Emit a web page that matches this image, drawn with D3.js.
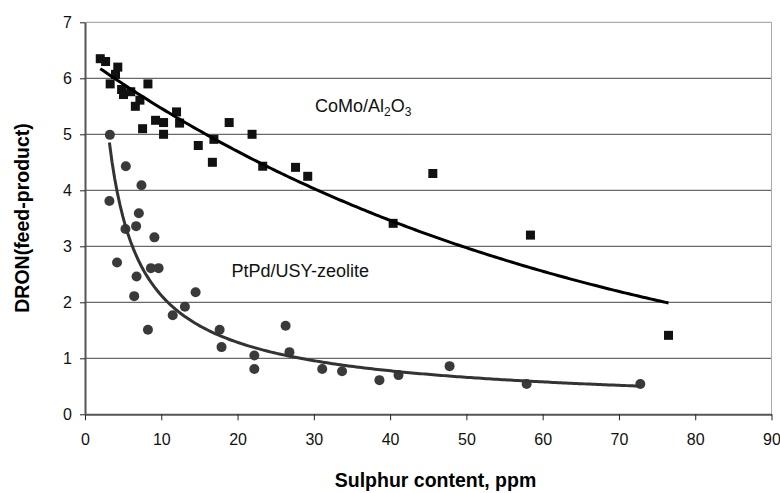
<!DOCTYPE html>
<html>
<head>
<meta charset="utf-8">
<script src="https://cdn.jsdelivr.net/npm/d3@7"></script>
<style>
  html, body { margin: 0; padding: 0; background: #fff; }
  svg { display: block; font-family: Arial, "Liberation Sans", sans-serif; }
</style>
</head>
<body>
<svg id="chart" width="780" height="493"></svg>
<script>
// ---- data ----
const comoX = [2.0, 2.7, 4.3, 4.0, 3.3, 4.8, 6.0, 5.05, 7.2, 6.6, 8.25, 9.25, 10.3, 12.0, 12.4, 7.55, 10.3, 14.85, 16.9, 16.7, 18.9, 21.9, 23.3, 27.6, 29.2, 45.6, 40.4, 58.4, 76.5];
const comoY = [6.35, 6.3, 6.2, 6.07, 5.9, 5.8, 5.76, 5.71, 5.61, 5.5, 5.9, 5.25, 5.21, 5.4, 5.2, 5.1, 5.0, 4.8, 4.91, 4.5, 5.21, 5.0, 4.43, 4.41, 4.25, 4.3, 3.41, 3.2, 1.41];
const ptpdX = [3.26, 5.35, 7.4, 3.2, 7.06, 5.3, 6.7, 9.1, 4.2, 6.76, 8.64, 9.65, 6.45, 14.5, 13.1, 8.25, 11.5, 17.65, 17.9, 22.2, 22.2, 26.3, 26.8, 31.1, 33.7, 38.6, 41.1, 47.8, 57.9, 72.8];
const ptpdY = [4.99, 4.43, 4.09, 3.81, 3.59, 3.31, 3.36, 3.16, 2.71, 2.46, 2.61, 2.61, 2.11, 2.18, 1.92, 1.51, 1.77, 1.51, 1.20, 1.05, 0.81, 1.58, 1.11, 0.81, 0.77, 0.61, 0.70, 0.86, 0.54, 0.54];
const xTicks = [0, 10, 20, 30, 40, 50, 60, 70, 80, 90];
const yTicks = [0, 1, 2, 3, 4, 5, 6, 7];
const xTitle = "Sulphur content, ppm";
const yTitle = "DRON(feed-product)";

// ---- layout ----
const svg = d3.select("#chart");
const L = 85, R = 771.5, T = 22.3, B = 414.3;
const x = d3.scaleLinear().domain([0, 90]).range([L, R]);
const y = d3.scaleLinear().domain([0, 7]).range([B, T]);

// gridlines
svg.append("g").selectAll("line").data(yTicks.filter(d => d > 0 && d < 7)).join("line")
  .attr("x1", L).attr("x2", R).attr("y1", d => y(d)).attr("y2", d => y(d))
  .attr("stroke", "#444").attr("stroke-width", 1);

// frame top/right
svg.append("line").attr("x1", L).attr("x2", R).attr("y1", y(7)).attr("y2", y(7)).attr("stroke", "#999").attr("stroke-width", 1);
svg.append("line").attr("x1", R).attr("x2", R).attr("y1", T).attr("y2", B).attr("stroke", "#aaa").attr("stroke-width", 1);

// axes
const fmt = d3.format("d");
const xAxis = d3.axisBottom(x).tickValues(xTicks).tickFormat(fmt).tickSize(6).tickSizeOuter(0).tickPadding(13);
const yAxis = d3.axisLeft(y).tickValues(yTicks).tickFormat(fmt).tickSize(5).tickSizeOuter(0).tickPadding(8);
const gx = svg.append("g").attr("transform", `translate(0,${B})`).call(xAxis);
const gy = svg.append("g").attr("transform", `translate(${L},0)`).call(yAxis);
[gx, gy].forEach(g => {
  g.select(".domain").attr("stroke", "#555").attr("stroke-width", 2);
  g.selectAll(".tick line").attr("stroke", "#222").attr("stroke-width", 1);
  g.selectAll(".tick text").attr("font-size", 16).attr("fill", "#111")
    .attr("font-family", "Arial, 'Liberation Sans', sans-serif");
});

// trend fits (Excel-style: least squares on logs)
function fitExp(xs, ys) {
  const n = xs.length;
  const ly = ys.map(Math.log);
  const mx = d3.mean(xs), my = d3.mean(ly);
  let sxy = 0, sxx = 0;
  for (let i = 0; i < n; i++) { sxy += (xs[i]-mx)*(ly[i]-my); sxx += (xs[i]-mx)**2; }
  const b = sxy / sxx, a = Math.exp(my - b*mx);
  return v => a * Math.exp(b * v);
}
function fitPow(xs, ys) {
  const n = xs.length;
  const lx = xs.map(Math.log), ly = ys.map(Math.log);
  const mx = d3.mean(lx), my = d3.mean(ly);
  let sxy = 0, sxx = 0;
  for (let i = 0; i < n; i++) { sxy += (lx[i]-mx)*(ly[i]-my); sxx += (lx[i]-mx)**2; }
  const b = sxy / sxx, a = Math.exp(my - b*mx);
  return v => a * Math.pow(v, b);
}
function curvePts(f, xs) {
  const [lo, hi] = d3.extent(xs);
  return d3.range(0, 201).map(i => { const v = lo + (hi-lo)*i/200; return [v, f(v)]; });
}
const line = d3.line().x(d => x(d[0])).y(d => y(d[1]));
const fCoMo = fitExp(comoX, comoY);
const fPtPd = fitPow(ptpdX, ptpdY);

// points: circles
svg.append("g").selectAll("circle").data(ptpdX.map((v, i) => [v, ptpdY[i]])).join("circle")
  .attr("cx", d => x(d[0])).attr("cy", d => y(d[1])).attr("r", 5).attr("fill", "#3a3a3a");
// points: squares
const s = 9;
svg.append("g").selectAll("rect").data(comoX.map((v, i) => [v, comoY[i]])).join("rect")
  .attr("x", d => x(d[0]) - s/2).attr("y", d => y(d[1]) - s/2).attr("width", s).attr("height", s).attr("fill", "#111");

svg.append("path").datum(curvePts(fPtPd, ptpdX)).attr("d", line)
  .attr("fill", "none").attr("stroke", "#333").attr("stroke-width", 3);
svg.append("path").datum(curvePts(fCoMo, comoX)).attr("d", line)
  .attr("fill", "none").attr("stroke", "#000").attr("stroke-width", 3);

// annotations
const t1 = svg.append("text").attr("x", 315).attr("y", 111.5).attr("font-size", 18).attr("fill", "#111");
t1.append("tspan").text("CoMo/Al");
t1.append("tspan").attr("font-size", 12).attr("dy", 4).text("2");
t1.append("tspan").attr("dy", -4).text("O");
t1.append("tspan").attr("font-size", 12).attr("dy", 4).text("3");
svg.append("text").attr("x", 231.5).attr("y", 276.5).attr("font-size", 18).attr("fill", "#111").text("PtPd/USY-zeolite");

// titles
svg.append("text").attr("x", 435.5).attr("y", 487).attr("text-anchor", "middle")
  .attr("font-size", 19.5).attr("font-weight", "bold").attr("fill", "#000").text(xTitle);
svg.append("text").attr("transform", "translate(29,218) rotate(-90)").attr("text-anchor", "middle")
  .attr("font-size", 19.5).attr("font-weight", "bold").attr("fill", "#000").text(yTitle);
</script>
</body>
</html>
